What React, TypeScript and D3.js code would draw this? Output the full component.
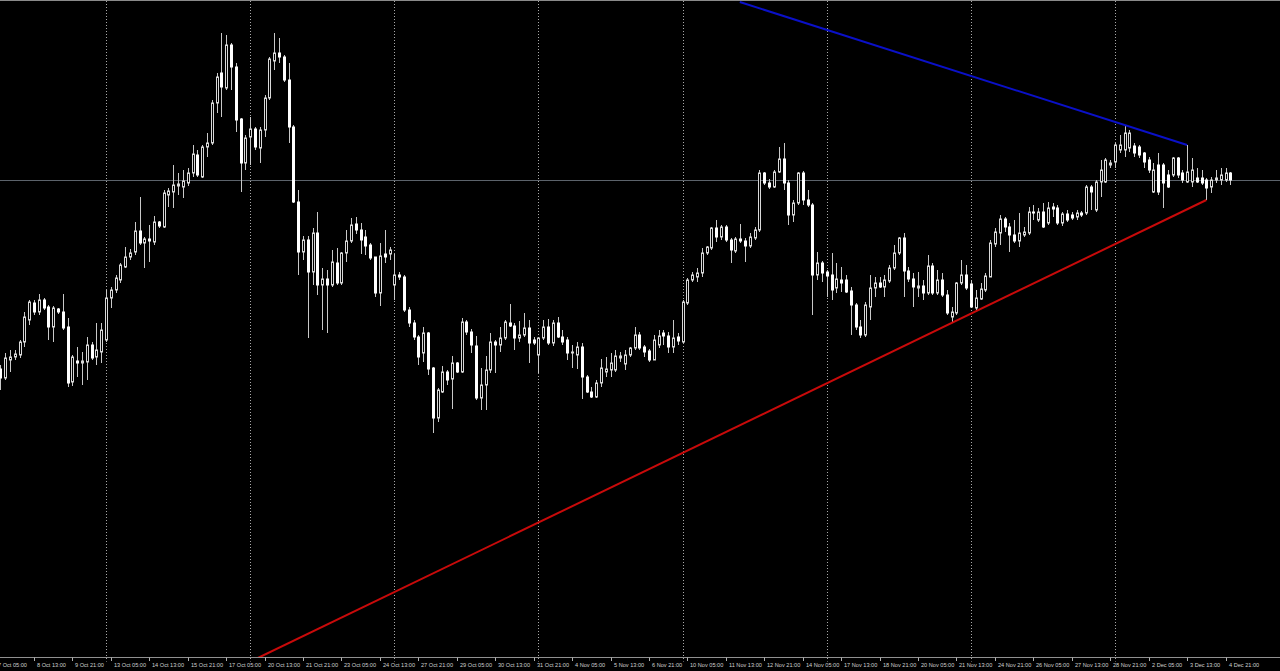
import React from "react";
import * as d3 from "d3";

// H4 candles, 7 Oct 09:00 .. 5 Dec 01:00 (arbitrary price units)
const OPEN = [131,122,140,143,145,158,180,197,188,200,193,173,191,188,173,118,139,137,138,155,143,148,160,202,210,220,233,243,248,269,257,261,258,278,273,305,308,314,313,317,327,345,323,353,357,397,427,412,455,433,381,337,363,371,352,370,402,439,447,443,420,373,298,248,260,228,267,215,221,215,237,217,247,259,276,270,263,255,243,207,246,246,215,225,223,190,177,163,147,167,132,82,108,128,121,137,128,178,168,154,102,115,130,158,155,162,177,174,162,165,172,160,145,162,173,157,177,163,160,147,145,153,123,108,103,117,128,130,130,142,136,145,152,165,153,149,140,155,167,164,153,163,158,197,220,223,227,247,252,272,263,273,260,249,261,259,254,262,270,327,317,313,328,341,317,285,297,327,300,295,225,237,228,225,212,220,220,209,195,173,165,193,212,217,213,219,232,247,262,229,221,212,214,207,234,207,220,205,183,187,217,225,216,192,201,210,223,256,267,281,273,265,259,265,267,288,280,288,277,293,292,277,286,285,283,287,287,313,290,318,318,335,338,350,350,352,354,353,347,340,308,335,335,325,325,342,327,318,318,322,322,320,313,320,320,320,327];
const HIGH = [135,147,150,150,160,188,200,200,206,202,195,194,192,206,182,145,153,148,163,158,177,177,210,213,225,237,253,251,278,303,263,275,284,279,310,312,335,327,330,332,355,350,355,367,400,427,467,465,457,437,382,365,383,373,373,405,443,467,462,445,437,375,310,264,264,272,288,232,230,250,252,248,270,282,283,277,270,257,243,257,270,253,246,228,225,193,180,165,173,168,133,112,134,130,144,138,182,180,171,164,132,144,167,160,173,180,196,177,179,187,180,163,163,180,181,180,183,170,163,155,158,157,125,113,120,141,143,147,150,148,150,153,173,168,155,151,165,170,170,168,180,167,200,222,228,232,252,254,273,280,275,275,262,263,276,262,267,273,330,328,321,330,353,357,320,300,328,329,310,297,248,239,230,247,237,233,225,213,197,180,198,225,223,223,225,235,255,263,267,233,227,228,220,245,237,230,227,210,193,218,240,235,220,210,217,227,260,272,285,283,277,280,287,273,293,295,292,297,298,297,295,288,290,288,290,289,315,315,320,340,342,340,357,365,375,370,357,355,348,343,337,347,337,330,343,343,330,355,342,332,330,322,323,330,332,332,328];
const LOW = [110,120,128,140,142,153,175,185,185,190,160,158,186,170,113,114,123,115,120,140,135,137,158,192,207,217,232,240,245,255,232,238,255,272,272,293,292,305,302,314,323,323,322,343,355,387,383,410,410,368,308,330,335,350,337,363,400,430,437,418,357,297,225,240,162,215,205,170,167,213,215,215,238,257,266,246,245,240,203,194,237,240,200,220,188,173,160,135,138,125,67,78,107,115,91,127,127,165,147,100,90,90,127,127,148,160,173,150,158,163,137,155,127,160,155,154,162,155,140,132,131,101,107,102,102,113,123,123,128,138,130,143,150,150,143,138,140,152,155,147,147,155,157,195,218,218,223,245,250,258,260,258,237,247,257,238,252,260,268,315,311,312,327,310,275,278,295,295,293,185,220,218,203,200,207,208,207,165,170,162,163,180,203,212,203,217,230,245,203,218,193,203,200,205,205,205,203,185,178,185,215,210,192,190,200,208,223,253,255,268,248,257,253,263,265,280,278,272,275,283,275,274,278,280,280,283,285,290,288,303,317,332,332,347,343,348,343,342,332,327,307,305,292,312,323,322,317,317,313,317,315,300,307,317,315,318,315];
const CLOSE = [122,142,143,146,158,183,198,188,200,192,173,192,188,172,117,143,137,139,155,142,150,170,202,210,222,235,243,247,269,257,261,259,278,274,307,309,315,316,319,327,346,325,353,357,397,423,413,455,433,380,337,362,371,353,370,402,441,447,443,420,373,298,248,260,228,267,215,221,215,238,217,247,259,275,270,260,254,242,207,244,243,250,225,223,190,177,163,143,167,131,82,110,128,120,137,128,178,168,155,102,115,130,158,155,162,178,174,162,165,172,157,157,162,173,157,177,163,158,147,148,153,123,108,103,117,132,131,137,144,144,145,152,165,152,148,140,160,164,164,153,162,159,198,220,225,227,247,253,272,263,273,260,250,261,259,254,263,270,327,317,313,328,341,317,285,297,327,300,295,225,237,227,224,210,221,217,208,195,173,165,195,212,217,213,220,232,247,262,229,221,213,214,207,234,207,220,205,187,188,217,225,212,193,202,211,224,257,268,281,273,265,259,267,268,288,287,288,273,292,291,277,286,280,282,287,285,313,308,318,330,340,337,355,355,367,367,347,345,338,330,330,308,317,313,342,325,320,328,330,318,317,312,320,322,325,327,320];

// x-axis labels every 8 candles, starting at candle index -1
const LABEL_START = -1;
const LABEL_STEP = 8;
const AXIS_LABELS = ["7 Oct 05:00","8 Oct 13:00","9 Oct 21:00","13 Oct 05:00","14 Oct 13:00","15 Oct 21:00","17 Oct 05:00","20 Oct 13:00","21 Oct 21:00","23 Oct 05:00","24 Oct 13:00","27 Oct 21:00","29 Oct 05:00","30 Oct 13:00","31 Oct 21:00","4 Nov 05:00","5 Nov 13:00","6 Nov 21:00","10 Nov 05:00","11 Nov 13:00","12 Nov 21:00","14 Nov 05:00","17 Nov 13:00","18 Nov 21:00","20 Nov 05:00","21 Nov 13:00","24 Nov 21:00","26 Nov 05:00","27 Nov 13:00","28 Nov 21:00","2 Dec 05:00","3 Dec 13:00","4 Dec 21:00"];

// weekly grid (Monday 01:00 candles)
const GRID_INDICES = [22, 52, 82, 112, 142, 172, 202, 232];

// trend lines: [index, price]
const BLUE_LINE = [[153.9, 498], [247, 355]];
const RED_LINE = [[53.6, -158], [251, 300]];
const LAST_PRICE = 320;

const W = 1280;
const H = 671;
const AXIS_Y = 657.5;

export default function App() {
  const n = OPEN.length;
  const x = d3.scaleLinear().domain([0, 256]).range([0.3, 0.3 + 256 * 4.805]);
  const y = d3.scaleLinear().domain([0, 500]).range([500, 0]);
  const line = d3.line<number[]>().x((d) => x(d[0])).y((d) => y(d[1]));

  const candles = d3.range(n).map((i) => {
    const cx = Math.round(x(i)) + 0.5;
    const o = OPEN[i], c = CLOSE[i];
    const top = y(Math.max(o, c));
    const bot = y(Math.min(o, c));
    const hi = Math.min(y(HIGH[i]), top);
    const lo = Math.max(y(LOW[i]), bot);
    const bull = c >= o;
    return (
      <g key={i}>
        <line x1={cx} x2={cx} y1={hi} y2={lo} stroke="#c8c8c8" strokeWidth={1} />
        {bull ? (
          <rect x={cx - 1} y={top} width={2} height={Math.max(bot - top, 0.5)} fill="#000" stroke="#d8d8d8" strokeWidth={1} />
        ) : (
          <rect x={cx - 1.5} y={top - 0.5} width={3} height={Math.max(bot - top + 1, 1)} fill="#ffffff" />
        )}
      </g>
    );
  });

  return (
    <svg
      width={W}
      height={H}
      style={{ position: "absolute", left: 0, top: 0, display: "block", background: "#000" }}
    >
      <defs>
        <clipPath id="plot">
          <rect x={0} y={0} width={W} height={AXIS_Y} />
        </clipPath>
      </defs>
      <rect x={0} y={0} width={W} height={H} fill="#000" />
      <line x1={0} x2={W} y1={0.5} y2={0.5} stroke="#8a8a8a" strokeWidth={1} />
      {GRID_INDICES.map((g) => {
        const gx = Math.round(x(g)) + 0.5;
        return (
          <line key={g} x1={gx} x2={gx} y1={1} y2={AXIS_Y + 4} stroke="#a8a8a8" strokeWidth={1} strokeDasharray="1 2" />
        );
      })}
      <line x1={0} x2={W} y1={Math.round(y(LAST_PRICE)) + 0.5} y2={Math.round(y(LAST_PRICE)) + 0.5} stroke="#5c636b" strokeWidth={1} />
      <g clipPath="url(#plot)">{candles}</g>
      <g clipPath="url(#plot)">
        <path d={line(BLUE_LINE as number[][]) || ""} stroke="#0a10c8" strokeWidth={2} fill="none" />
        <path d={line(RED_LINE as number[][]) || ""} stroke="#c80a0a" strokeWidth={2} fill="none" />
      </g>
      <line x1={0} x2={W} y1={AXIS_Y} y2={AXIS_Y} stroke="#909090" strokeWidth={1} />
      {AXIS_LABELS.map((t, k) => {
        const idx = LABEL_START + k * LABEL_STEP;
        const tx = Math.round(x(idx)) + 0.5;
        return (
          <g key={t}>
            <line x1={tx} x2={tx} y1={AXIS_Y} y2={AXIS_Y + 3.5} stroke="#b0b0b0" strokeWidth={1} />
            <text x={tx + 2.5} y={667} fill="#d0d0d0" fontSize={5.6} fontFamily="Liberation Sans, Arial, sans-serif">
              {t}
            </text>
          </g>
        );
      })}
    </svg>
  );
}
